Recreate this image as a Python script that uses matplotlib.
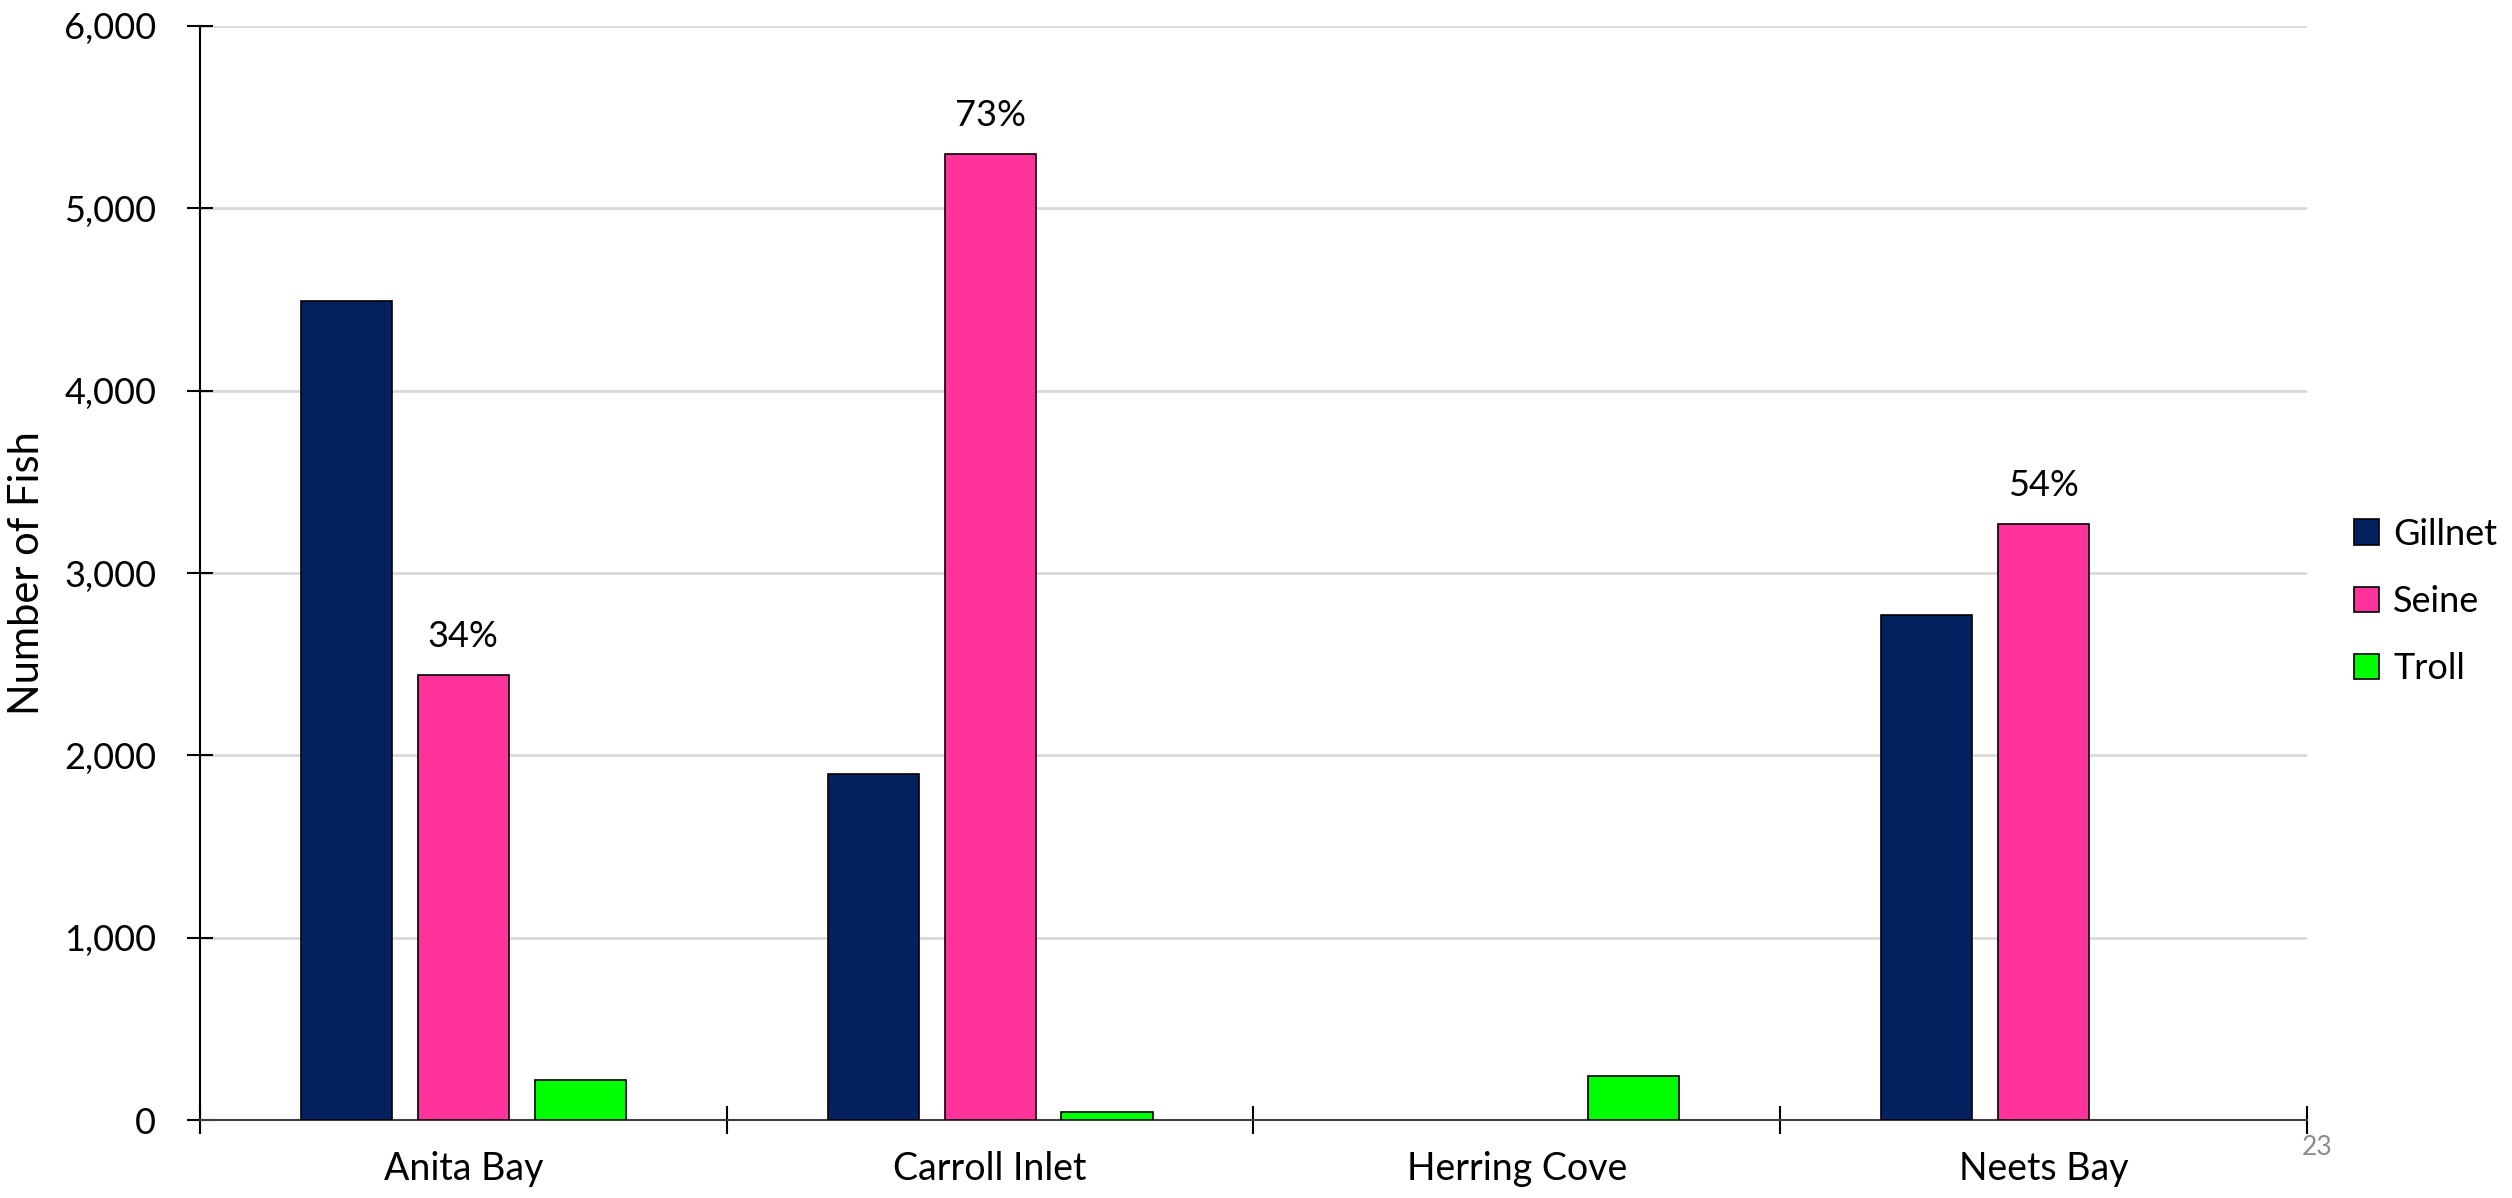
import matplotlib
matplotlib.use("Agg")
import matplotlib.pyplot as plt
from matplotlib.patches import Patch
import numpy as np

categories = ["Anita Bay", "Carroll Inlet", "Herring Cove", "Neets Bay"]
gillnet = [4490, 1900, 0, 2770]
seine = [2440, 5300, 0, 3270]
troll = [220, 45, 240, 0]
seine_pct = ["34%", "73%", None, "54%"]
series_names = ["Gillnet", "Seine", "Troll"]
colors = ["#03215E", "#FF3399", "#00FF00"]
yticks = [0, 1000, 2000, 3000, 4000, 5000, 6000]

plt.rcParams['font.family'] = ['Lato', 'DejaVu Sans']

fig = plt.figure(figsize=(25.12, 11.98), dpi=100)
ax = fig.add_axes([0.0796, 0.0651, 0.9184 - 0.0796, 0.9783 - 0.0651])

x = np.arange(len(categories))
width = 0.173
step = 0.222
all_series = [gillnet, seine, troll]
for i, (vals, c) in enumerate(zip(all_series, colors)):
    xs = x + (i - 1) * step
    for xi, v in zip(xs, vals):
        if v > 0:
            ax.bar(xi, v, width=width, color=c, edgecolor="black", linewidth=1.2, zorder=3)
    if i == 1:
        for xi, v, lab in zip(xs, vals, seine_pct):
            if lab:
                ax.text(xi, v + 120, lab, ha="center", va="bottom", fontsize=26)

ax.set_xlim(-0.5, len(categories) - 0.5)
ax.set_ylim(0, 6000)
ax.set_yticks(yticks)
ax.set_yticklabels([f"{v:,}" for v in yticks], fontsize=26)
ax.set_xticks(x)
ax.set_xticklabels(categories, fontsize=27)
ax.tick_params(axis="x", which="major", length=0, pad=22)
ax.set_xticks(np.arange(-0.5, len(categories)), minor=True)
ax.tick_params(axis="x", which="minor", direction="inout", length=20, width=1.5)
ax.tick_params(axis="y", which="major", direction="inout", length=19, width=1.5, pad=22)

ax.grid(axis="y", color="#D9D9D9", linewidth=2, zorder=0)
ax.set_axisbelow(True)
for s in ["top", "right"]:
    ax.spines[s].set_visible(False)
ax.spines["left"].set_linewidth(1.5)
ax.spines["bottom"].set_linewidth(1.5)
ax.spines["bottom"].set_color("#404040")

ax.set_ylabel("Number of Fish", fontsize=30)
ax.yaxis.set_label_coords(-0.073, 0.5)

handles = [Patch(facecolor=c, edgecolor="black", linewidth=1.2) for c in colors]
fig.legend(handles, series_names, loc="center left", bbox_to_anchor=(0.924, 0.498),
           frameon=False, fontsize=26, handlelength=0.7, handleheight=0.7,
           handletextpad=0.4, labelspacing=0.95)

fig.text(0.9165, 0.053, "23", color="#8C8C8C", fontsize=19, ha="left", va="top",
         transform=fig.transFigure)

fig.savefig("out.png", dpi=100)
